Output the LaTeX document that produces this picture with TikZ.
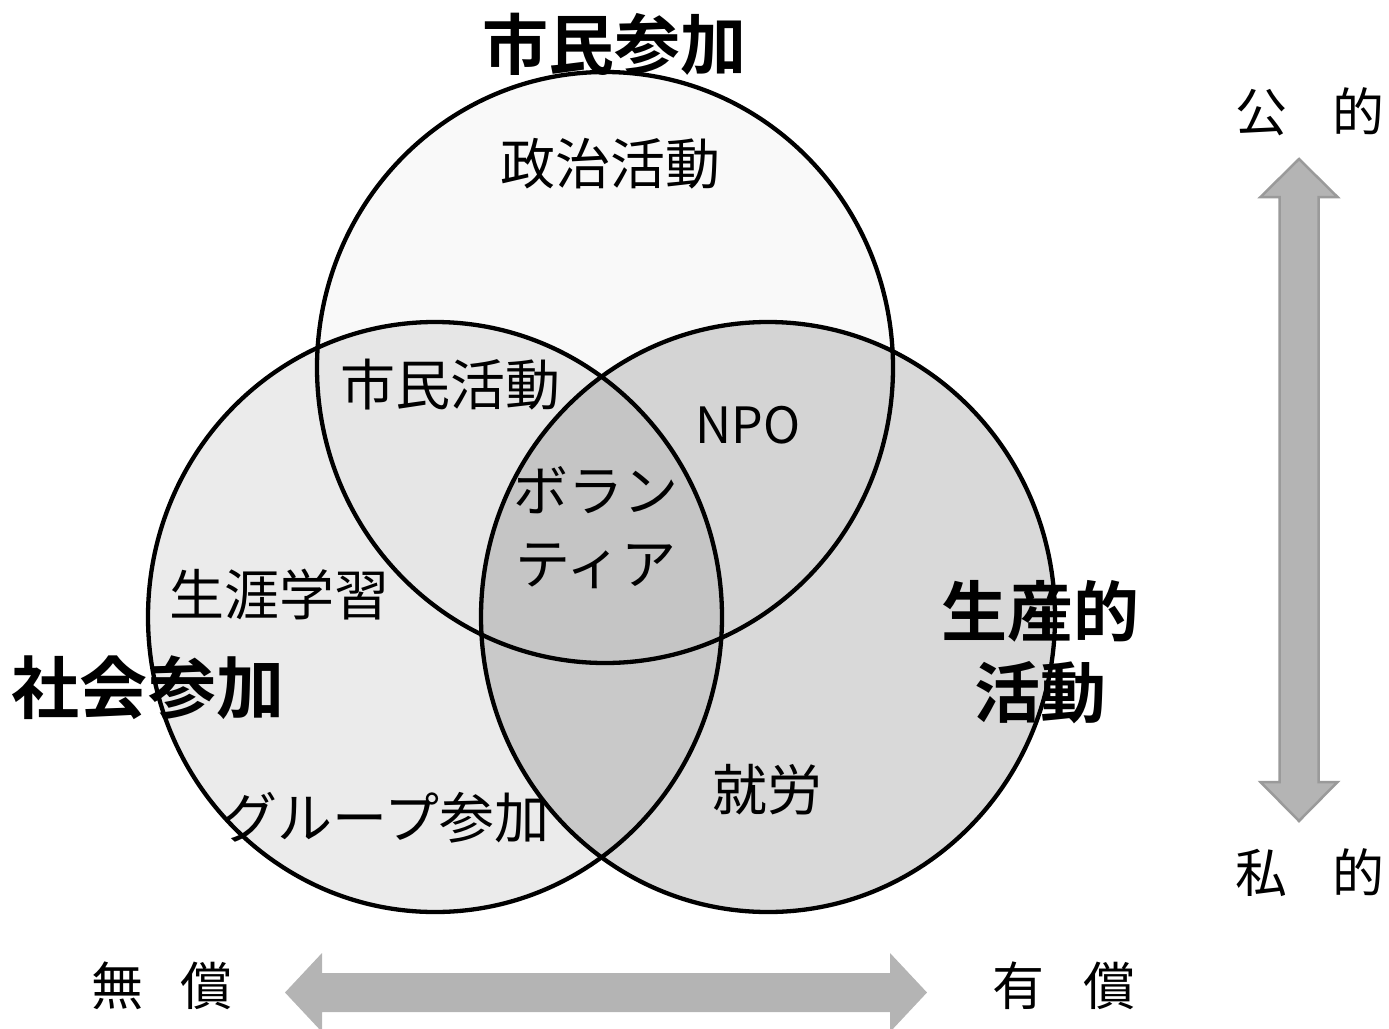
\documentclass[tikz,border=0pt]{standalone}
\usepackage{fontspec}
\setmainfont{Noto Sans CJK JP}[BoldFont={Noto Sans CJK JP Bold}]
\definecolor{fT}{HTML}{F9F9F9}
\definecolor{fL}{HTML}{EBEBEB}
\definecolor{fR}{HTML}{D9D9D9}
\definecolor{fTL}{HTML}{E6E6E6}
\definecolor{fTR}{HTML}{D4D4D4}
\definecolor{fLR}{HTML}{C9C9C9}
\definecolor{fTLR}{HTML}{C5C5C5}
\definecolor{arrfill}{HTML}{B4B4B4}
\definecolor{arrline}{HTML}{9A9A9A}
\newcommand\ellT{(605,367.5) ellipse [x radius=288pt, y radius=295.5pt]}
\newcommand\ellL{(435,617) ellipse [x radius=287pt, y radius=295pt]}
\newcommand\ellR{(768,617) ellipse [x radius=287pt, y radius=295pt]}
\tikzset{
  rim/.style={draw=black, line width=4.3pt},
  lbl/.style={inner sep=0pt, font=\fontsize{55}{73}\selectfont, align=center},
  ttl/.style={inner sep=0pt, font=\fontsize{66}{81}\selectfont\bfseries, align=center},
  axl/.style={inner sep=0pt, font=\fontsize{52}{60}\selectfont},
  bigarrow/.style={fill=arrfill}
}
\begin{document}
\begin{tikzpicture}[x=1pt,y=-1pt]
\path[use as bounding box] (0,0) rectangle (1389,1028);
\clip (0,0) rectangle (1389,1028);
% region fills
\fill[fT] \ellT;
\fill[fL] \ellL;
\fill[fR] \ellR;
\begin{scope}
  \clip \ellT;
  \fill[fTL] \ellL;
  \fill[fTR] \ellR;
\end{scope}
\begin{scope}
  \clip \ellL;
  \fill[fLR] \ellR;
  \clip \ellR;
  \fill[fTLR] \ellT;
\end{scope}
% outlines
\draw[rim] \ellT;
\draw[rim] \ellL;
\draw[rim] \ellR;
% arrows
\path[bigarrow, draw=arrline, line width=2.5pt, line join=miter]
  (1299,159) -- (1337.5,197) -- (1318.5,197) -- (1318.5,782) -- (1337.5,782)
  -- (1299,821) -- (1260.5,782) -- (1279.5,782) -- (1279.5,197) -- (1260.5,197) -- cycle;
\path[bigarrow]
  (285,992.5) -- (322,953) -- (322,973) -- (890,973) -- (890,953) -- (927,992.5)
  -- (890,1032) -- (890,1012) -- (322,1012) -- (322,1032) -- cycle;
% titles
\node[ttl] (civic) at (614,44) {市民参加};
\node[ttl, font=\fontsize{68}{81}\selectfont\bfseries] (social) at (148,688) {社会参加};
\node[ttl] (prod) at (1040,652) {生産的\\活動};
% labels
\node[lbl] (pol) at (610,164) {政治活動};
\node[lbl] (cit) at (450,385) {市民活動};
\node[lbl, font=\fontsize{50}{60}\selectfont] (npo) at (748,425) {NPO};
\node[lbl] (vol) at (596,528) {ボラン\\ティア};
\node[lbl] (life) at (279,595) {生涯学習};
\node[lbl] (work) at (767,790) {就労};
\node[lbl] (grp) at (386,818) {グループ参加};
% axis labels
\node[axl] (pub) at (1310,112) {公\hspace{0.85em}的};
\node[axl] (priv) at (1310,873) {私\hspace{0.85em}的};
\node[axl] (unpaid) at (162,986) {無\hspace{0.7em}償};
\node[axl] (paid) at (1064,986) {有\hspace{0.75em}償};
\end{tikzpicture}
\end{document}
